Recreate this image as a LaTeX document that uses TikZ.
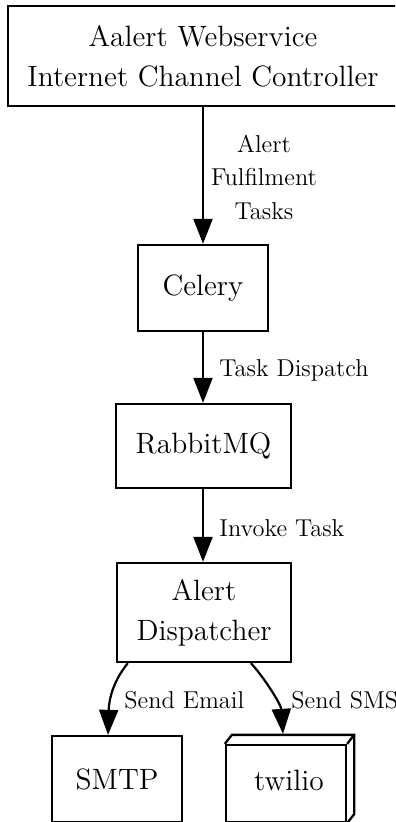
\documentclass[tikz,border=0pt]{standalone}
\usepackage{fontspec}
\usetikzlibrary{arrows.meta,calc}
\newcommand{\nodefnt}{\fontsize{14.7}{20}\selectfont}
\newcommand{\lblfnt}{\fontsize{12.2}{16.75}\selectfont}
\tikzset{
  box/.style={draw, line width=1.15pt, inner sep=0pt, font=\nodefnt, align=center},
  lbl/.style={font=\lblfnt, align=center, inner sep=0pt},
  arr/.style={line width=1.1pt, -{Triangle[length=12.5pt,width=9.5pt]}}
}
\begin{document}
\begin{tikzpicture}[x=0.5pt,y=-0.5pt]
\useasboundingbox (0,0) rectangle (395,822);
\clip (0,0) rectangle (395,822);
\node[box, minimum width=195pt, minimum height=50pt] (top) at (203,56) {Aalert Webservice\\Internet Channel Controller};
\node[box, minimum width=65pt, minimum height=43pt] (celery) at (203,288) {Celery};
\node[box, minimum width=87.5pt, minimum height=42pt] (rabbit) at (203.5,446) {RabbitMQ};
\node[box, minimum width=87pt, minimum height=49.5pt] (disp) at (204,612.5) {Alert\\Dispatcher};
\node[box, minimum width=65pt, minimum height=43pt] (smtp) at (117,779) {SMTP};
\node[box, minimum width=60pt, minimum height=38.5pt] (twilio) at (286,783.5) {};
\node[font=\nodefnt, inner sep=0pt] (twtext) at (289,780) {twilio};
\draw[line width=1.15pt, line join=miter] (twilio.north west) -- ++(7,-9) -- ($(twilio.north east)+(7,-9)$) -- ($(twilio.south east)+(7,-9)$) -- (twilio.south east);
\draw[line width=1.15pt] (twilio.north east) -- ++(7,-9);

\draw[arr] (top.south) -- (celery.north);
\draw[arr] (celery.south) -- ($(rabbit.north)+(-0.5,0)$);
\draw[arr] ($(rabbit.south)+(-0.5,0)$) -- ($(disp.north)+(-1,0)$);
\draw[arr] ($(disp.south west)+(12,0)$) .. controls (114,680) and (109,698) .. ($(smtp.north)+(-9,0)$);
\draw[arr] ($(disp.south west)+(135,0)$) .. controls (263,676) and (281,704) .. ($(twilio.north)+(-3,-10)$);

\node[lbl] (l1) at (264,177) {Alert\\Fulfilment\\Tasks};
\node[lbl, anchor=west] (l2) at (219,370) {Task Dispatch};
\node[lbl, anchor=west] (l3) at (219,528) {Invoke Task};
\node[lbl, anchor=west] (l4) at (124,700) {Send Email};
\node[lbl, anchor=west] (l5) at (291,700) {Send SMS};
\end{tikzpicture}
\end{document}
